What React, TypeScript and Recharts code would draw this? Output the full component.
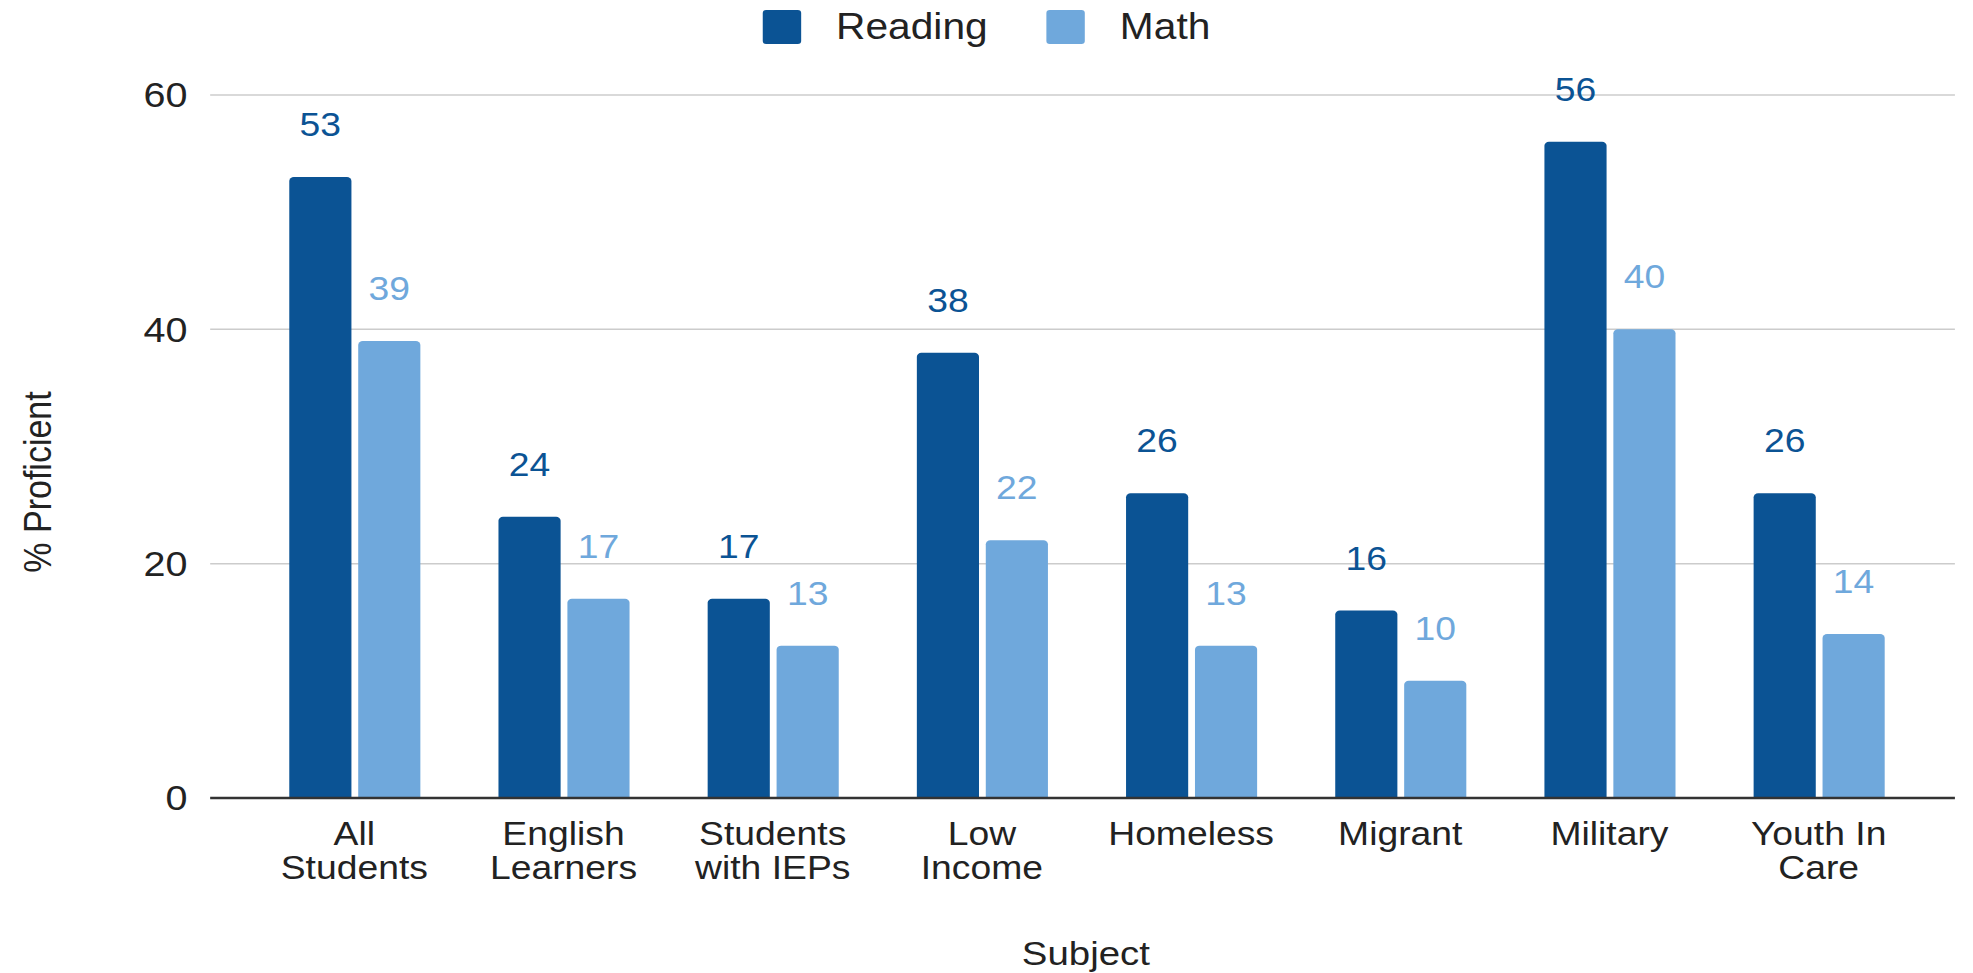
import { BarChart, Bar, XAxis, YAxis, CartesianGrid, Legend, LabelList } from 'recharts';

const categories = [
  'All Students',
  'English Learners',
  'Students with IEPs',
  'Low Income',
  'Homeless',
  'Migrant',
  'Military',
  'Youth In Care',
];
const seriesNames = ['Reading', 'Math'];
const reading = [53, 24, 17, 38, 26, 16, 56, 26];
const math = [39, 17, 13, 22, 13, 10, 40, 14];
const yTicks = [0, 20, 40, 60];

const FONT = '"Liberation Sans", Arial, Helvetica, sans-serif';
const READING = '#0b5394';
const MATH = '#6fa8dc';

// the source image is stretched sideways, so draw narrower and scale x
const STRETCH = 1.13;
const W = 1746;
const H = 973;
const TICK_SIZE = 33;
const WRAP = 160;

const rows = categories.map((name, i) => ({
  name,
  reading: reading[i],
  math: math[i],
}));

let ctx: CanvasRenderingContext2D | null = null;
function measure(s: string) {
  if (!ctx) {
    ctx = document.createElement('canvas').getContext('2d');
  }
  if (!ctx) return s.length * TICK_SIZE * 0.5;
  ctx.font = `${TICK_SIZE}px ${FONT}`;
  return ctx.measureText(s).width;
}

function wrapWords(label: string) {
  const lines: string[] = [];
  let cur = '';
  label.split(' ').forEach(w => {
    const next = cur ? cur + ' ' + w : w;
    if (cur && measure(next) > WRAP) {
      lines.push(cur);
      cur = w;
    } else {
      cur = next;
    }
  });
  if (cur) lines.push(cur);
  return lines;
}

function XTick({ x, y, payload }: any) {
  const lines = wrapWords(String(payload.value));
  return (
    <text x={x} y={y} textAnchor="middle" fill="#222" fontSize={TICK_SIZE} fontFamily={FONT}>
      {lines.map((l, i) => (
        <tspan key={i} x={x} dy={i === 0 ? 23 : 34}>
          {l}
        </tspan>
      ))}
    </text>
  );
}

function renderLegend({ payload }: any) {
  const items = [...(payload || [])].sort(
    (a: any, b: any) => seriesNames.indexOf(a.value) - seriesNames.indexOf(b.value),
  );
  return (
    <div
      style={{
        height: 54,
        display: 'flex',
        justifyContent: 'center',
        alignItems: 'center',
        fontFamily: FONT,
        fontSize: 36,
        color: '#222',
      }}
    >
      {items.map((p: any, i: number) => (
        <div key={p.value} style={{ display: 'flex', alignItems: 'center', marginLeft: i ? 52 : 0 }}>
          <span
            style={{
              display: 'inline-block',
              width: 34,
              height: 34,
              background: p.color,
              borderRadius: 3,
              marginRight: 31,
            }}
          />
          <span>{p.value}</span>
        </div>
      ))}
    </div>
  );
}

export default function App() {
  return (
    <div
      style={{
        position: 'absolute',
        left: 0,
        top: 0,
        width: W,
        height: H,
        transform: `scaleX(${STRETCH})`,
        transformOrigin: '0 0',
      }}
    >
      <BarChart
        width={W}
        height={H}
        data={rows}
        margin={{ top: 41, right: 16, bottom: 0, left: 0 }}
        barSize={55}
        barGap={6}
      >
        <CartesianGrid vertical={false} stroke="#cccccc" strokeWidth={1.5} />
        <XAxis
          dataKey="name"
          height={175}
          padding={{ left: 35, right: 28 }}
          tickLine={false}
          tickSize={0}
          tickMargin={24}
          axisLine={{ stroke: '#333', strokeWidth: 2.5 }}
          tick={<XTick />}
          interval={0}
          label={({ viewBox }: any) => (
            <text
              x={viewBox.x + viewBox.width / 2 + 3}
              y={965}
              textAnchor="middle"
              fontSize={34}
              fontFamily={FONT}
              fill="#222"
            >
              Subject
            </text>
          )}
        />
        <YAxis
          width={186}
          domain={[0, 60]}
          ticks={yTicks}
          axisLine={false}
          tickLine={false}
          tickSize={0}
          tickMargin={20}
          tick={{ fontSize: 35, fontFamily: FONT, fill: '#222' }}
          label={() => (
            <text
              x={33}
              y={482}
              transform="rotate(-90, 33, 482)"
              textAnchor="middle"
              dominantBaseline="central"
              fontSize={34}
              fontFamily={FONT}
              fill="#222"
            >
              % Proficient
            </text>
          )}
        />
        <Legend
          verticalAlign="top"
          content={renderLegend}
          wrapperStyle={{ top: 0, left: 0, width: W }}
        />
        <Bar dataKey="reading" name="Reading" fill={READING} radius={[4, 4, 0, 0]} isAnimationActive={false}>
          <LabelList dataKey="reading" position="top" offset={41} fill={READING} fontSize={33} fontFamily={FONT} />
        </Bar>
        <Bar dataKey="math" name="Math" fill={MATH} radius={[4, 4, 0, 0]} isAnimationActive={false}>
          <LabelList dataKey="math" position="top" offset={41} fill={MATH} fontSize={33} fontFamily={FONT} />
        </Bar>
      </BarChart>
    </div>
  );
}
